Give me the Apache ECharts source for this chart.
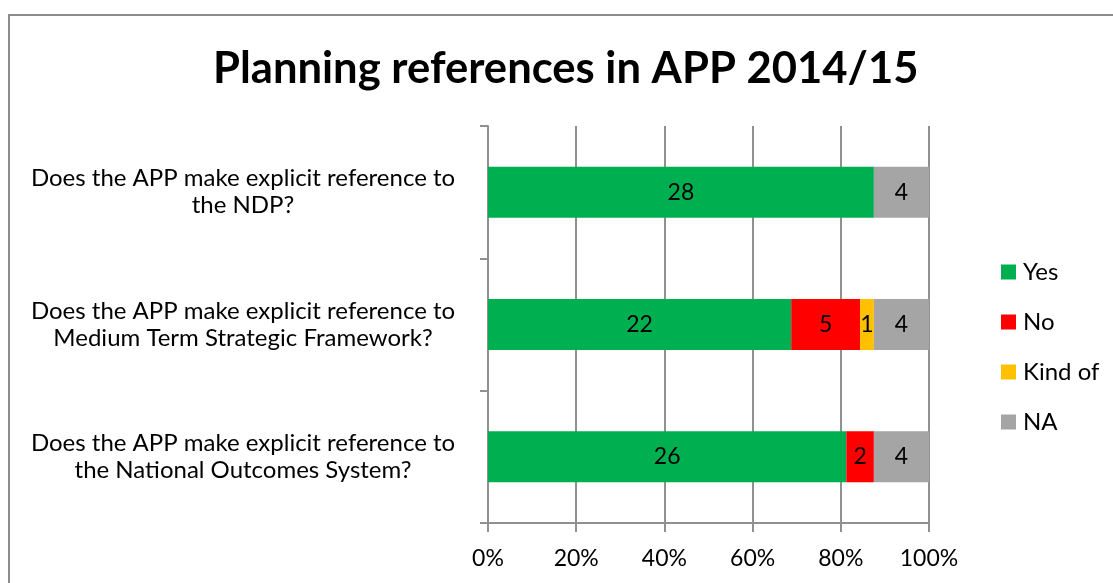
<!DOCTYPE html>
<html>
<head>
<meta charset="utf-8">
<title>Planning references in APP 2014/15</title>
<script src="https://cdn.jsdelivr.net/npm/echarts@6.0.0/dist/echarts.min.js"></script>
<style>
    html, body { margin: 0; padding: 0; background: #fff; }
    #chart { width: 1113px; height: 583px; }
</style>
</head>
<body>
<div id="chart"></div>
<script>
    // questions, top to bottom
    var categories = [
        'Does the APP make explicit reference to\nthe NDP?',
        'Does the APP make explicit reference to\nMedium Term Strategic Framework?',
        'Does the APP make explicit reference to\nthe National Outcomes System?'
    ]
    var seriesNames = ['Yes', 'No', 'Kind of', 'NA']
    var yesCounts = [28, 22, 26]
    var noCounts = [0, 5, 2]
    var kindOfCounts = [0, 1, 0]
    var naCounts = [4, 4, 4]
    var xTicks = [0, 20, 40, 60, 80, 100]
    var colors = ['#00b050', '#ff0000', '#ffc000', '#a5a5a5']

    var counts = [yesCounts, noCounts, kindOfCounts, naCounts]
    var totals = categories.map(function (c, i) {
        return counts.reduce(function (s, arr) { return s + arr[i] }, 0)
    })

    var font = 'Lato, Calibri, "DejaVu Sans", sans-serif'
    var chart = echarts.init(document.getElementById('chart'))

    var series = seriesNames.map(function (name, k) {
        return {
            name: name,
            type: 'bar',
            stack: 'total',
            barWidth: 51,
            data: counts[k].map(function (v, i) {
                return { value: v / totals[i] * 100, count: v }
            }),
            label: {
                show: true,
                position: 'inside',
                color: '#000',
                fontSize: 23,
                fontFamily: font,
                formatter: function (p) {
                    return p.data.count ? String(p.data.count) : ''
                }
            },
            emphasis: { disabled: true }
        }
    })

    chart.setOption({
        animation: false,
        color: colors,
        graphic: [{
            type: 'rect',
            shape: { x: 9, y: 15, width: 1200, height: 700 },
            style: { fill: 'none', stroke: '#8c8c8c', lineWidth: 2 },
            silent: true
        }],
        title: {
            text: 'Planning references in APP 2014/15',
            left: 213,
            top: 47,
            padding: 0,
            textStyle: {
                fontFamily: font,
                fontWeight: 'bold',
                fontSize: 43.6,
                color: '#000'
            }
        },
        legend: {
            orient: 'vertical',
            left: 1001,
            top: 260,
            padding: 0,
            icon: 'rect',
            itemWidth: 15,
            itemHeight: 15,
            itemGap: 26,
            data: seriesNames,
            textStyle: {
                fontFamily: font,
                fontSize: 24,
                lineHeight: 22,
                color: '#000',
                padding: [0, 0, 0, 2]
            }
        },
        grid: {
            left: 488,
            right: 184,
            top: 126,
            bottom: 60
        },
        xAxis: {
            type: 'value',
            min: xTicks[0],
            max: xTicks[xTicks.length - 1],
            interval: 20,
            axisLine: { show: true, lineStyle: { color: '#909090', width: 2 } },
            axisTick: { show: true, length: 9, lineStyle: { color: '#909090', width: 2 } },
            splitLine: { show: true, lineStyle: { color: '#909090', width: 2 } },
            axisLabel: {
                margin: 24,
                fontFamily: font,
                fontSize: 23,
                color: '#000',
                formatter: '{value}%'
            }
        },
        yAxis: {
            type: 'category',
            inverse: true,
            data: categories,
            axisLine: { show: true, lineStyle: { color: '#909090', width: 2 } },
            axisTick: { show: true, length: 8, lineStyle: { color: '#909090', width: 2 } },
            axisLabel: {
                margin: 245,
                align: 'center',
                fontFamily: font,
                fontSize: 24,
                lineHeight: 27,
                color: '#000'
            }
        },
        series: series
    })
</script>
</body>
</html>
